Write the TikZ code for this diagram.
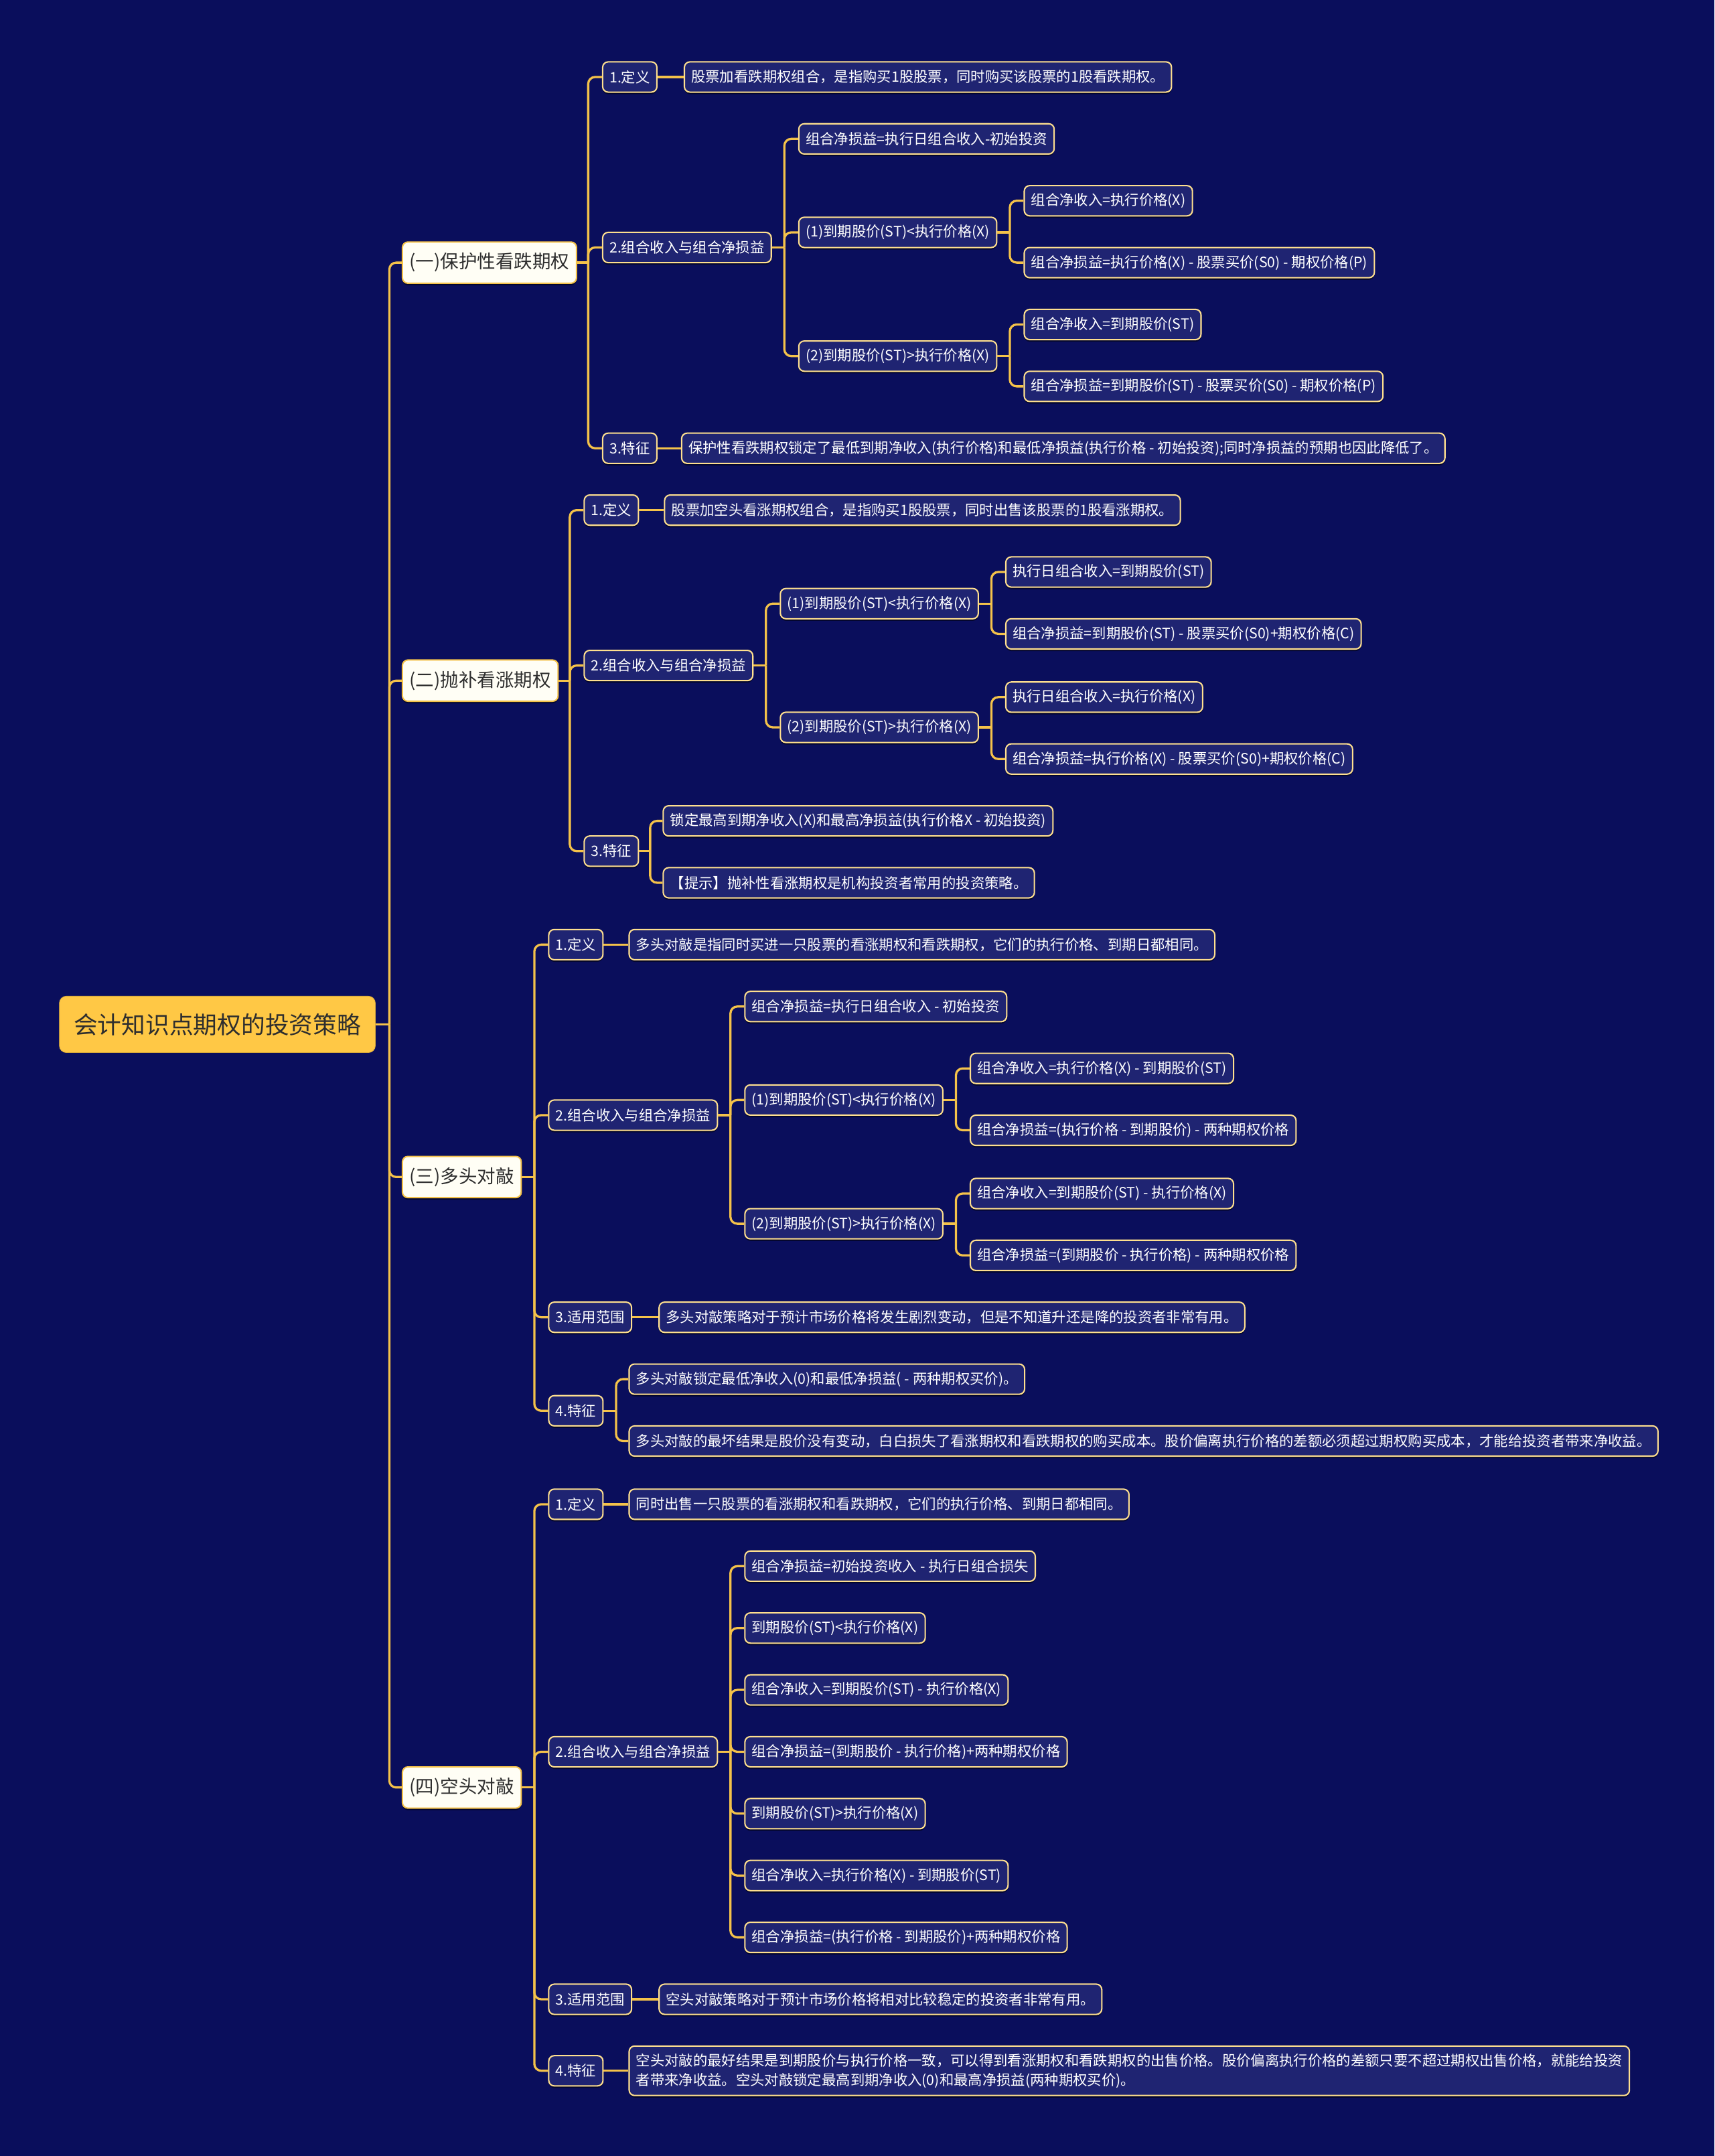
\documentclass[tikz,border=0pt]{standalone}
\usepackage{fontspec}
\setmainfont{Noto Sans CJK SC}
\usepackage{xcolor}
\usepackage{tikz}
\usetikzlibrary{positioning,shadows}

\definecolor{navy}{HTML}{0A0E5C}
\definecolor{boxblue}{HTML}{1F2472}
\definecolor{gold}{HTML}{F4C24A}
\definecolor{palegold}{HTML}{FFE08F}
\definecolor{rootgold}{HTML}{FFC845}
\definecolor{ink}{HTML}{2E2E2E}

\begin{document}
\begin{tikzpicture}[
    x=1pt, y=-1pt,
    link/.style={draw=gold, line width=1.6pt, rounded corners=5pt},
    rootbox/.style={rectangle, fill=rootgold, draw=rootgold!85!black, rounded corners=5pt, anchor=west, text=ink, font=\fontsize{17.4}{20}\selectfont, minimum height=41pt, inner xsep=10.5pt},
    topicbox/.style={rectangle, fill=white!96!yellow, draw=gold, line width=1pt, rounded corners=4pt, anchor=west, text=ink, font=\fontsize{13.4}{15}\selectfont, minimum height=30pt, inner xsep=5.2pt, drop shadow={shadow xshift=0pt, shadow yshift=-1.5pt, opacity=0.5, fill=black}},
    leafbox/.style={rectangle, fill=boxblue, draw=palegold, line width=1pt, rounded corners=4pt, anchor=west, text=white, font=\fontsize{10.4}{14}\selectfont, minimum height=22pt, inner xsep=5pt, drop shadow={shadow xshift=0pt, shadow yshift=-1.5pt, opacity=0.5, fill=black}}
]

\useasboundingbox (0,0) rectangle (1247,1568);
\fill[navy] (0,0) rectangle (1247,1568);

% Root
\node[rootbox] (root) at (43,745) {会计知识点期权的投资策略};
\coordinate (root_j) at ([xshift=10pt]root.east);

% Topics
\node[topicbox, xshift=9pt] (prot) at (root_j |- 0,191) {(一)保护性看跌期权};
\node[topicbox, xshift=9pt] (cover) at (root_j |- 0,495) {(二)抛补看涨期权};
\node[topicbox, xshift=9pt] (longst) at (root_j |- 0,856) {(三)多头对敲};
\node[topicbox, xshift=9pt] (shortst) at (root_j |- 0,1300) {(四)空头对敲};

% (一) Protective put
\coordinate (prot_j) at ([xshift=8pt]prot.east);
\node[leafbox, xshift=10pt] (prot_def) at (prot_j |- 0,56) {1.定义};
\node[leafbox, right=19pt of prot_def] (prot_def_txt) {股票加看跌期权组合，是指购买1股股票，同时购买该股票的1股看跌期权。};
\node[leafbox, xshift=10pt] (prot_pay) at (prot_j |- 0,180) {2.组合收入与组合净损益};
\coordinate (prot_pay_j) at ([xshift=9pt]prot_pay.east);
\node[leafbox, xshift=10pt] (prot_net) at (prot_pay_j |- 0,101) {组合净损益=执行日组合收入-初始投资};
\node[leafbox, xshift=10pt] (prot_low) at (prot_pay_j |- 0,169) {(1)到期股价(ST)<执行价格(X)};
\coordinate (prot_low_j) at ([xshift=9pt]prot_low.east);
\node[leafbox, xshift=10pt] (prot_low_in) at (prot_low_j |- 0,146) {组合净收入=执行价格(X)};
\node[leafbox, xshift=10pt] (prot_low_net) at (prot_low_j |- 0,191) {组合净损益=执行价格(X) - 股票买价(S0) - 期权价格(P)};
\node[leafbox, xshift=10pt] (prot_high) at (prot_pay_j |- 0,259) {(2)到期股价(ST)>执行价格(X)};
\coordinate (prot_high_j) at ([xshift=9pt]prot_high.east);
\node[leafbox, xshift=10pt] (prot_high_in) at (prot_high_j |- 0,236) {组合净收入=到期股价(ST)};
\node[leafbox, xshift=10pt] (prot_high_net) at (prot_high_j |- 0,281) {组合净损益=到期股价(ST) - 股票买价(S0) - 期权价格(P)};
\node[leafbox, xshift=10pt] (prot_feat) at (prot_j |- 0,326) {3.特征};
\node[leafbox, right=17pt of prot_feat] (prot_feat_txt) {保护性看跌期权锁定了最低到期净收入(执行价格)和最低净损益(执行价格 - 初始投资);同时净损益的预期也因此降低了。};

% (二) Covered call
\coordinate (cover_j) at ([xshift=8pt]cover.east);
\node[leafbox, xshift=10pt] (cover_def) at (cover_j |- 0,371) {1.定义};
\node[leafbox, right=18pt of cover_def] (cover_def_txt) {股票加空头看涨期权组合，是指购买1股股票，同时出售该股票的1股看涨期权。};
\node[leafbox, xshift=10pt] (cover_pay) at (cover_j |- 0,484) {2.组合收入与组合净损益};
\coordinate (cover_pay_j) at ([xshift=9pt]cover_pay.east);
\node[leafbox, xshift=10pt] (cover_low) at (cover_pay_j |- 0,439) {(1)到期股价(ST)<执行价格(X)};
\coordinate (cover_low_j) at ([xshift=9pt]cover_low.east);
\node[leafbox, xshift=10pt] (cover_low_in) at (cover_low_j |- 0,416) {执行日组合收入=到期股价(ST)};
\node[leafbox, xshift=10pt] (cover_low_net) at (cover_low_j |- 0,461) {组合净损益=到期股价(ST) - 股票买价(S0)+期权价格(C)};
\node[leafbox, xshift=10pt] (cover_high) at (cover_pay_j |- 0,529) {(2)到期股价(ST)>执行价格(X)};
\coordinate (cover_high_j) at ([xshift=9pt]cover_high.east);
\node[leafbox, xshift=10pt] (cover_high_in) at (cover_high_j |- 0,507) {执行日组合收入=执行价格(X)};
\node[leafbox, xshift=10pt] (cover_high_net) at (cover_high_j |- 0,552) {组合净损益=执行价格(X) - 股票买价(S0)+期权价格(C)};
\node[leafbox, xshift=10pt] (cover_feat) at (cover_j |- 0,619) {3.特征};
\coordinate (cover_feat_j) at ([xshift=8pt]cover_feat.east);
\node[leafbox, xshift=9pt] (cover_feat_a) at (cover_feat_j |- 0,597) {锁定最高到期净收入(X)和最高净损益(执行价格X - 初始投资)};
\node[leafbox, xshift=9pt] (cover_feat_b) at (cover_feat_j |- 0,642) {【提示】抛补性看涨期权是机构投资者常用的投资策略。};

% (三) Long straddle
\coordinate (longst_j) at ([xshift=9pt]longst.east);
\node[leafbox, xshift=10pt] (longst_def) at (longst_j |- 0,687) {1.定义};
\node[leafbox, right=18pt of longst_def] (longst_def_txt) {多头对敲是指同时买进一只股票的看涨期权和看跌期权，它们的执行价格、到期日都相同。};
\node[leafbox, xshift=10pt] (longst_pay) at (longst_j |- 0,811) {2.组合收入与组合净损益};
\coordinate (longst_pay_j) at ([xshift=9pt]longst_pay.east);
\node[leafbox, xshift=10pt] (longst_net) at (longst_pay_j |- 0,732) {组合净损益=执行日组合收入 - 初始投资};
\node[leafbox, xshift=10pt] (longst_low) at (longst_pay_j |- 0,800) {(1)到期股价(ST)<执行价格(X)};
\coordinate (longst_low_j) at ([xshift=9pt]longst_low.east);
\node[leafbox, xshift=10pt] (longst_low_in) at (longst_low_j |- 0,777) {组合净收入=执行价格(X) - 到期股价(ST)};
\node[leafbox, xshift=10pt] (longst_low_net) at (longst_low_j |- 0,822) {组合净损益=(执行价格 - 到期股价) - 两种期权价格};
\node[leafbox, xshift=10pt] (longst_high) at (longst_pay_j |- 0,890) {(2)到期股价(ST)>执行价格(X)};
\coordinate (longst_high_j) at ([xshift=9pt]longst_high.east);
\node[leafbox, xshift=10pt] (longst_high_in) at (longst_high_j |- 0,868) {组合净收入=到期股价(ST) - 执行价格(X)};
\node[leafbox, xshift=10pt] (longst_high_net) at (longst_high_j |- 0,913) {组合净损益=(到期股价 - 执行价格) - 两种期权价格};
\node[leafbox, xshift=10pt] (longst_use) at (longst_j |- 0,958) {3.适用范围};
\node[leafbox, right=19pt of longst_use] (longst_use_txt) {多头对敲策略对于预计市场价格将发生剧烈变动，但是不知道升还是降的投资者非常有用。};
\node[leafbox, xshift=10pt] (longst_feat) at (longst_j |- 0,1026) {4.特征};
\coordinate (longst_feat_j) at ([xshift=9pt]longst_feat.east);
\node[leafbox, xshift=9pt] (longst_feat_a) at (longst_feat_j |- 0,1003) {多头对敲锁定最低净收入(0)和最低净损益( - 两种期权买价)。};
\node[leafbox, xshift=9pt] (longst_feat_b) at (longst_feat_j |- 0,1048) {多头对敲的最坏结果是股价没有变动，白白损失了看涨期权和看跌期权的购买成本。股价偏离执行价格的差额必须超过期权购买成本，才能给投资者带来净收益。};

% (四) Short straddle
\coordinate (shortst_j) at ([xshift=9pt]shortst.east);
\node[leafbox, xshift=10pt] (shortst_def) at (shortst_j |- 0,1094) {1.定义};
\node[leafbox, right=18pt of shortst_def] (shortst_def_txt) {同时出售一只股票的看涨期权和看跌期权，它们的执行价格、到期日都相同。};
\node[leafbox, xshift=10pt] (shortst_pay) at (shortst_j |- 0,1274) {2.组合收入与组合净损益};
\coordinate (shortst_pay_j) at ([xshift=9pt]shortst_pay.east);
\node[leafbox, xshift=10pt] (shortst_p1) at (shortst_pay_j |- 0,1139) {组合净损益=初始投资收入 - 执行日组合损失};
\node[leafbox, xshift=10pt] (shortst_p2) at (shortst_pay_j |- 0,1184) {到期股价(ST)<执行价格(X)};
\node[leafbox, xshift=10pt] (shortst_p3) at (shortst_pay_j |- 0,1229) {组合净收入=到期股价(ST) - 执行价格(X)};
\node[leafbox, xshift=10pt] (shortst_p4) at (shortst_pay_j |- 0,1274) {组合净损益=(到期股价 - 执行价格)+两种期权价格};
\node[leafbox, xshift=10pt] (shortst_p5) at (shortst_pay_j |- 0,1319) {到期股价(ST)>执行价格(X)};
\node[leafbox, xshift=10pt] (shortst_p6) at (shortst_pay_j |- 0,1364) {组合净收入=执行价格(X) - 到期股价(ST)};
\node[leafbox, xshift=10pt] (shortst_p7) at (shortst_pay_j |- 0,1409) {组合净损益=(执行价格 - 到期股价)+两种期权价格};
\node[leafbox, xshift=10pt] (shortst_use) at (shortst_j |- 0,1454) {3.适用范围};
\node[leafbox, right=19pt of shortst_use] (shortst_use_txt) {空头对敲策略对于预计市场价格将相对比较稳定的投资者非常有用。};
\node[leafbox, xshift=10pt] (shortst_feat) at (shortst_j |- 0,1506) {4.特征};
\node[leafbox, right=18pt of shortst_feat, align=left, minimum height=36pt] (shortst_feat_txt) {空头对敲的最好结果是到期股价与执行价格一致，可以得到看涨期权和看跌期权的出售价格。股价偏离执行价格的差额只要不超过期权出售价格，就能给投资\\者带来净收益。空头对敲锁定最高到期净收入(0)和最高净损益(两种期权买价)。};

% Connections
\draw[link] (root) -- (root_j);
\draw[link] (root_j) |- (prot);
\draw[link] (root_j) |- (cover);
\draw[link] (root_j) |- (longst);
\draw[link] (root_j) |- (shortst);

\draw[link] (prot) -- (prot_j);
\draw[link] (prot_j) |- (prot_def);
\draw[link] (prot_j) |- (prot_pay);
\draw[link] (prot_j) |- (prot_feat);
\draw[link] (prot_def) -- (prot_def_txt);
\draw[link] (prot_feat) -- (prot_feat_txt);
\draw[link] (prot_pay) -- (prot_pay_j);
\draw[link] (prot_pay_j) |- (prot_net);
\draw[link] (prot_pay_j) |- (prot_low);
\draw[link] (prot_pay_j) |- (prot_high);
\draw[link] (prot_low) -- (prot_low_j);
\draw[link] (prot_low_j) |- (prot_low_in);
\draw[link] (prot_low_j) |- (prot_low_net);
\draw[link] (prot_high) -- (prot_high_j);
\draw[link] (prot_high_j) |- (prot_high_in);
\draw[link] (prot_high_j) |- (prot_high_net);

\draw[link] (cover) -- (cover_j);
\draw[link] (cover_j) |- (cover_def);
\draw[link] (cover_j) |- (cover_pay);
\draw[link] (cover_j) |- (cover_feat);
\draw[link] (cover_def) -- (cover_def_txt);
\draw[link] (cover_pay) -- (cover_pay_j);
\draw[link] (cover_pay_j) |- (cover_low);
\draw[link] (cover_pay_j) |- (cover_high);
\draw[link] (cover_low) -- (cover_low_j);
\draw[link] (cover_low_j) |- (cover_low_in);
\draw[link] (cover_low_j) |- (cover_low_net);
\draw[link] (cover_high) -- (cover_high_j);
\draw[link] (cover_high_j) |- (cover_high_in);
\draw[link] (cover_high_j) |- (cover_high_net);
\draw[link] (cover_feat) -- (cover_feat_j);
\draw[link] (cover_feat_j) |- (cover_feat_a);
\draw[link] (cover_feat_j) |- (cover_feat_b);

\draw[link] (longst) -- (longst_j);
\draw[link] (longst_j) |- (longst_def);
\draw[link] (longst_j) |- (longst_pay);
\draw[link] (longst_j) |- (longst_use);
\draw[link] (longst_j) |- (longst_feat);
\draw[link] (longst_def) -- (longst_def_txt);
\draw[link] (longst_use) -- (longst_use_txt);
\draw[link] (longst_pay) -- (longst_pay_j);
\draw[link] (longst_pay_j) |- (longst_net);
\draw[link] (longst_pay_j) |- (longst_low);
\draw[link] (longst_pay_j) |- (longst_high);
\draw[link] (longst_low) -- (longst_low_j);
\draw[link] (longst_low_j) |- (longst_low_in);
\draw[link] (longst_low_j) |- (longst_low_net);
\draw[link] (longst_high) -- (longst_high_j);
\draw[link] (longst_high_j) |- (longst_high_in);
\draw[link] (longst_high_j) |- (longst_high_net);
\draw[link] (longst_feat) -- (longst_feat_j);
\draw[link] (longst_feat_j) |- (longst_feat_a);
\draw[link] (longst_feat_j) |- (longst_feat_b);

\draw[link] (shortst) -- (shortst_j);
\draw[link] (shortst_j) |- (shortst_def);
\draw[link] (shortst_j) |- (shortst_pay);
\draw[link] (shortst_j) |- (shortst_use);
\draw[link] (shortst_j) |- (shortst_feat);
\draw[link] (shortst_def) -- (shortst_def_txt);
\draw[link] (shortst_use) -- (shortst_use_txt);
\draw[link] (shortst_feat) -- (shortst_feat_txt);
\draw[link] (shortst_pay) -- (shortst_pay_j);
\draw[link] (shortst_pay_j) |- (shortst_p1);
\draw[link] (shortst_pay_j) |- (shortst_p2);
\draw[link] (shortst_pay_j) |- (shortst_p3);
\draw[link] (shortst_pay_j) |- (shortst_p4);
\draw[link] (shortst_pay_j) |- (shortst_p5);
\draw[link] (shortst_pay_j) |- (shortst_p6);
\draw[link] (shortst_pay_j) |- (shortst_p7);

\end{tikzpicture}
\end{document}
